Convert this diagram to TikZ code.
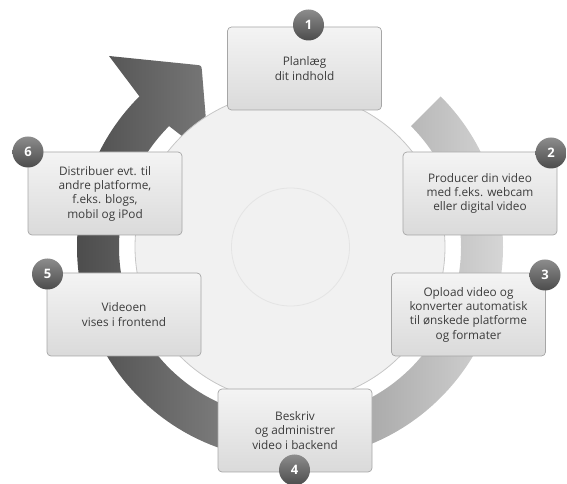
\documentclass[tikz,border=0pt]{standalone}
\usepackage{fontspec}
\setmainfont{Open Sans}
\definecolor{bandL}{HTML}{464646}
\definecolor{bandR}{HTML}{DCDCDC}
\definecolor{circFill}{HTML}{F1F1F1}
\definecolor{circEdge}{HTML}{C6C6C6}
\definecolor{innerEdge}{HTML}{E4E4E4}
\definecolor{boxtop}{HTML}{F4F4F4}
\definecolor{boxbot}{HTML}{DADADA}
\definecolor{boxborder}{HTML}{A6A6A6}
\definecolor{textgray}{HTML}{3C3C3C}
\definecolor{ballTop}{HTML}{8C8C8C}
\definecolor{ballBot}{HTML}{4C4C4C}
\begin{document}
\begin{tikzpicture}[x=1pt,y=1pt,
  stepbox/.style={draw=boxborder, line width=0.7pt, rounded corners=4pt,
    top color=boxtop, bottom color=boxbot, minimum width=154pt,
    minimum height=83pt, inner sep=0pt, align=center,
    font=\fontsize{11.8}{14.3}\selectfont, text=textgray},
  numball/.style={circle, minimum size=31pt, inner sep=0pt,
    top color=ballTop, bottom color=ballBot, text=white,
    font=\bfseries\fontsize{13}{15}\selectfont}]
\useasboundingbox (0,0) rectangle (567,484);
\coordinate (C) at (290,237);
% ring arrow
\shade[left color=bandL, right color=bandR]
  ([shift={(45:213)}]C) arc[start angle=45, end angle=-225, radius=213]
  -- (109,428) -- (195.5,419.2) .. controls (201.5,418.6) .. (202,412.6)
  -- (209,327)
  -- ([shift={(135:171)}]C) arc[start angle=135, end angle=405, radius=171]
  -- cycle;
% central circles
\draw[draw=circEdge, fill=circFill, line width=0.8pt] (C) circle[radius=155];
\draw[draw=innerEdge, line width=0.8pt] (290.5,237) circle[radius=59];
% boxes
\node[stepbox] (b1) at (304.5,415.5) {Planlæg\\dit indhold};
\node[stepbox] (b2) at (480,290.5) {Producer din video\\med f.eks. webcam\\eller digital video};
\node[stepbox] (b3) at (468.5,169.5) {Opload video og\\konverter automatisk\\til ønskede platforme\\og formater};
\node[stepbox] (b4) at (295,53.5) {Beskriv\\og administrer\\video i backend};
\node[stepbox] (b5) at (124,169.5) {Videoen\\vises i frontend};
\node[stepbox] (b6) at (105,290.5) {Distribuer evt. til\\andre platforme,\\f.eks. blogs,\\mobil og iPod};
% numbers
\node[numball] (n1) at (308.5,459) {1};
\node[numball] (n2) at (551,331) {2};
\node[numball] (n3) at (545,209) {3};
\node[numball] (n4) at (294.5,14) {4};
\node[numball] (n5) at (47.5,210) {5};
\node[numball] (n6) at (28,332) {6};
\end{tikzpicture}
\end{document}
